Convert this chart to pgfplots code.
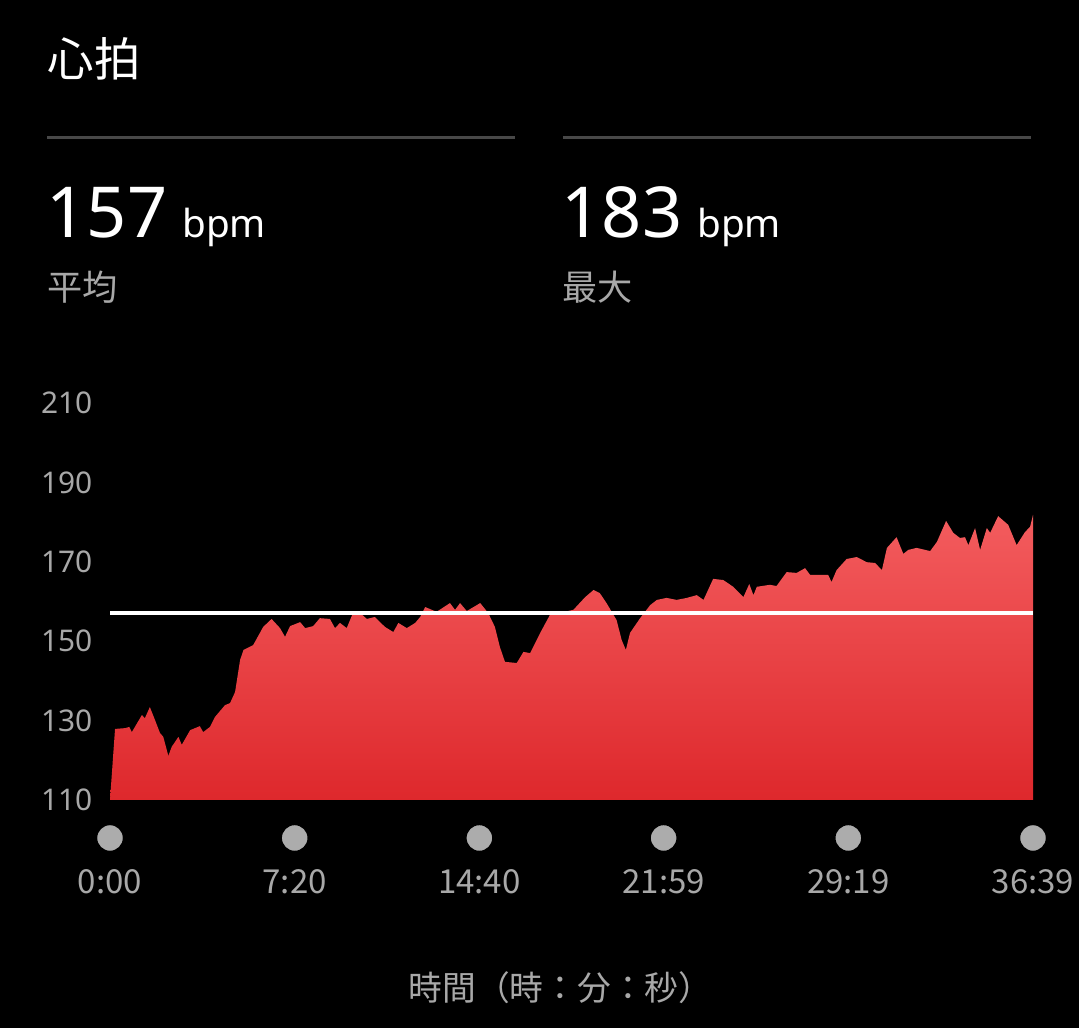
\documentclass[border=0pt]{standalone}
\usepackage{fontspec}
\setmainfont{Noto Sans}
\newfontfamily\cjk{Noto Sans CJK JP}
\usepackage{pgfplots}
\usepackage{pgfplotstable}
\pgfplotsset{compat=1.18}

\definecolor{txtgray}{RGB}{168,168,168}
\definecolor{dotgray}{RGB}{172,172,172}
\definecolor{rulegray}{RGB}{72,72,72}
\definecolor{hrtop}{RGB}{243,92,94}
\definecolor{hrbot}{RGB}{222,40,44}

% heart rate: t in seconds, hr in bpm (last row drops the area to the baseline)
\pgfplotstableread{
t hr
0 110
12 127.9
36 128.1
46 128.4
52 127.1
76 131.4
83 130.6
95 133.4
107 130.2
119 126.9
127 125.9
139 121.1
147 123.4
163 125.9
171 123.9
191 127.6
214 128.6
222 127.1
238 128.4
250 130.9
274 133.9
286 134.4
298 137.2
310 145.3
318 147.8
341 149.0
365 153.6
385 155.6
405 153.3
417 151.1
429 153.8
453 154.8
465 153.3
484 153.8
500 155.8
524 155.6
536 153.3
548 154.6
564 153.3
580 157.4
596 157.1
612 155.6
631 156.1
655 153.6
675 152.3
687 154.6
707 153.3
727 154.6
739 156.1
751 158.6
778 157.4
810 159.6
822 157.9
834 159.6
850 157.6
882 159.6
901 157.1
917 153.6
929 148.5
941 144.8
969 144.5
985 147.3
1001 147.0
1025 152.1
1048 156.6
1104 157.9
1132 161.1
1152 162.9
1167 162.1
1183 159.6
1207 155.3
1219 150.3
1229 147.8
1239 152.1
1263 155.8
1287 159.1
1303 160.4
1326 160.9
1350 160.4
1374 160.9
1398 161.6
1414 160.4
1437 165.7
1461 165.4
1485 163.7
1509 161.1
1523 164.4
1533 161.6
1541 163.7
1572 164.2
1588 163.9
1612 167.4
1636 167.2
1656 168.4
1668 166.7
1711 166.7
1719 164.9
1731 167.9
1755 170.7
1779 171.2
1803 169.9
1823 169.7
1839 167.9
1851 173.5
1874 176.2
1890 172.0
1902 173.0
1922 173.5
1954 172.7
1970 175.0
1992 180.3
2009 177.3
2025 176.0
2037 176.2
2045 174.2
2061 178.5
2073 173.0
2089 178.5
2097 177.3
2116 181.5
2140 179.3
2160 174.2
2180 177.5
2192 178.8
2199 181.8
2199 110
}\hrdata

\begin{document}
\begin{tikzpicture}[x=1cm,y=1cm]
\fill[black] (0,0) rectangle (10.79,10.28);

% header
\node[anchor=west, white, inner sep=0, font=\cjk\fontsize{13.2}{15}\selectfont] at (0.47,9.69) {心拍};
\draw[rulegray, line width=0.03cm] (0.47,8.90) -- (5.15,8.90);
\draw[rulegray, line width=0.03cm] (5.63,8.90) -- (10.31,8.90);
\node[anchor=base west, white, inner sep=0] at (0.46,7.90) {\fontsize{20}{24}\selectfont 157\hspace{0.15cm}{\fontsize{11}{13}\selectfont bpm}};
\node[anchor=base west, white, inner sep=0] at (5.61,7.90) {\fontsize{20}{24}\selectfont 183\hspace{0.15cm}{\fontsize{11}{13}\selectfont bpm}};
\node[anchor=west, txtgray, inner sep=0, font=\cjk\fontsize{10}{12}\selectfont] at (0.47,7.41) {平均};
\node[anchor=west, txtgray, inner sep=0, font=\cjk\fontsize{10}{12}\selectfont] at (5.62,7.41) {最大};

\begin{axis}[
    at={(1.10cm,2.28cm)}, anchor=south west,
    scale only axis, width=9.23cm, height=3.97cm,
    xmin=0, xmax=2199, ymin=110, ymax=210,
    clip=false,
    axis line style={draw=none},
    tick style={draw=none},
    xtick={0,440,880,1319,1759,2199},
    xticklabels={0:00,7:20,14:40,21:59,29:19,36:39},
    ytick={110,130,150,170,190,210},
    yticklabels={110,130,150,170,190,210},
    xticklabel style={anchor=center, inner sep=0pt, yshift=-0.82cm, txtgray, font=\cjk\fontsize{9.4}{11}\selectfont},
    yticklabel style={anchor=east, inner sep=0pt, xshift=-0.17cm, txtgray, font=\fontsize{8.5}{10}\selectfont},
    xlabel={時間（時：分：秒）},
    xlabel style={at={(axis description cs:0.5,0)}, anchor=center, yshift=-1.88cm, xshift=-0.11cm, txtgray, inner sep=0pt, font=\cjk\fontsize{9.6}{11}\selectfont},
]
\addplot[draw=none, top color=hrtop, bottom color=hrbot] table[x=t, y=hr] {\hrdata} -- cycle;
\addplot[white, line width=0.04cm] coordinates {(0,157) (2199,157)};
\addplot[only marks, mark=*, mark size=0.135cm, mark options={draw=none, fill=dotgray}]
    coordinates {(0,100.43) (440,100.43) (880,100.43) (1319,100.43) (1759,100.43) (2199,100.43)};
\end{axis}

\pgfresetboundingbox
\path (0,0) rectangle (10.79,10.28);
\end{tikzpicture}
\end{document}
